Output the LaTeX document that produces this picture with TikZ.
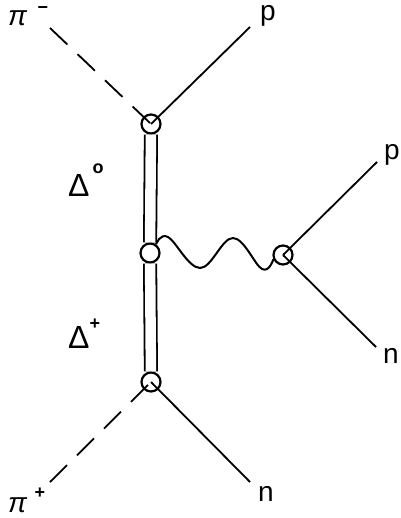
\documentclass[tikz,border=0pt]{standalone}
\usepackage{fontspec}
\setmainfont{Liberation Sans}
\begin{document}
\begin{tikzpicture}[x=1pt,y=-1pt,
  vtx/.style={circle,draw,line width=2.2pt,minimum size=19pt,inner sep=0pt},
  fermion/.style={line width=1.8pt},
  pion/.style={line width=1.8pt,dash pattern=on 24pt off 14pt},
  reso/.style={double,double distance=10.5pt,line width=1.8pt},
  photon/.style={line width=2pt},
  lbl/.style={inner sep=0pt,font=\fontsize{28}{30}\selectfont},
  dlt/.style={inner sep=0pt,font=\fontsize{32}{34}\selectfont},
  supr/.style={inner sep=0pt,font=\fontsize{18}{18}\selectfont\bfseries}
]
\useasboundingbox (0,0) rectangle (400,518);

% vertices
\node[vtx] (top) at (151,124) {};
\node[vtx] (mid) at (150,253) {};
\node[vtx] (bot) at (151,382) {};
\node[vtx] (rv)  at (283,255) {};

% labels
\node[lbl,anchor=base west] (pim) at (8,26) {\itshape π};
\node[supr] (pimsup) at (43,10) {−};
\node[lbl,anchor=base west] (pip) at (8,512) {\itshape π};
\node[supr] (pipsup) at (40,493) {+};
\node[lbl,anchor=base west] (p1) at (260,21) {p};
\node[lbl,anchor=base west] (p2) at (384,160) {p};
\node[lbl,anchor=base east] (n2) at (399,363) {n};
\node[lbl,anchor=base west] (n1) at (258,501) {n};
\node[dlt,anchor=base west] (d0) at (68,197) {Δ};
\node[supr] (d0sup) at (98,169) {o};
\node[dlt,anchor=base west] (dp) at (68,348) {Δ};
\node[supr] (dpsup) at (95,324) {+};

% free ends of the external lines
\coordinate (pimend) at (50,28);
\coordinate (pipend) at (50,482);
\coordinate (p1end) at (250,27);
\coordinate (p2end) at (377,162);
\coordinate (n2end) at (376,347);
\coordinate (n1end) at (250,482);

% external lines
\draw[pion] (pimend) -- (top.center);
\draw[pion] (pipend) -- (bot.center);
\draw[fermion] (top.center) -- (p1end);
\draw[fermion] (bot.center) -- (n1end);
\draw[fermion] (rv.center) -- (p2end);
\draw[fermion] (rv.center) -- (n2end);

% resonance propagators
\draw[reso] (top) -- (mid);
\draw[reso] (mid) -- (bot);

% exchanged photon
\draw[photon] plot[smooth,tension=0.65] coordinates
  {(mid.55) (168,237) (200,268) (233,238) (262,269) (rv.204)};
\end{tikzpicture}
\end{document}
